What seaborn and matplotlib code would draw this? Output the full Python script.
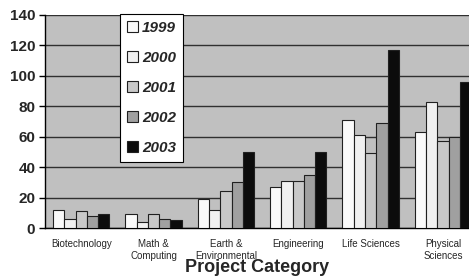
import pandas as pd
import numpy as np
import matplotlib.pyplot as plt
import seaborn as sns

sns.set_style('white')
plt.rcParams['font.family'] = ['Liberation Sans', 'DejaVu Sans']

# Chart data
categories = ['Biotechnology', 'Math &\nComputing', 'Earth &\nEnvironmental',
              'Engineering', 'Life Sciences', 'Physical\nSciences']
years = ['1999', '2000', '2001', '2002', '2003']
v1999 = [12, 9, 19, 27, 71, 63]
v2000 = [6, 4, 12, 31, 61, 83]
v2001 = [11, 9, 24, 31, 49, 57]
v2002 = [8, 6, 30, 35, 69, 60]
v2003 = [9, 5, 50, 50, 117, 96]

rows = []
for yr, vals in zip(years, [v1999, v2000, v2001, v2002, v2003]):
    for cat, v in zip(categories, vals):
        rows.append({'Category': cat, 'Year': yr, 'Count': v})
df = pd.DataFrame(rows)

palette = ['#fafafa', '#f0f0f0', '#c8c8c8', '#a0a0a0', '#0c0c0c']

fig = plt.figure(figsize=(4.69, 2.78), dpi=100)
ax = fig.add_axes([45 / 469, 50 / 278, 1 - 45 / 469, 213 / 278])
ax.set_facecolor('#c0c0c0')

sns.barplot(data=df, x='Category', y='Count', hue='Year', palette=palette,
            edgecolor='#202020', linewidth=0.8, width=0.78, ax=ax, zorder=3)

ax.set_ylim(0, 140)
ax.set_xlim(-0.5, 5.36)
ax.set_yticks(range(0, 141, 20))
ax.set_yticklabels([str(t) for t in range(0, 141, 20)], fontsize=11, fontweight='bold')
ax.yaxis.grid(True, color='#303030', linewidth=1.0, zorder=1)
ax.set_axisbelow(True)

ax.set_xticks(range(len(categories)))
ax.set_xticklabels(categories, fontsize=7, linespacing=1.2)
ax.tick_params(axis='x', length=0, pad=8)
ax.set_xticks(np.arange(-0.5, 5.5, 1), minor=True)
ax.tick_params(axis='x', which='minor', length=4, color='black', width=1)
ax.tick_params(axis='y', length=4, color='black', width=1, left=True, pad=3)

for s in ['top', 'right']:
    ax.spines[s].set_visible(False)
for s in ['left', 'bottom']:
    ax.spines[s].set_color('black')
    ax.spines[s].set_linewidth(1)

ax.set_xlabel('Project Category', fontsize=13, fontweight='bold', labelpad=-1)
ax.set_ylabel('')

leg = ax.legend(loc='upper left', bbox_to_anchor=(0.177, 1.005), frameon=True,
                fancybox=False, edgecolor='black', framealpha=1,
                prop={'weight': 'bold', 'style': 'italic', 'size': 11},
                handlelength=0.7, handleheight=0.7, handletextpad=0.3,
                labelspacing=1.05, borderpad=0.45, borderaxespad=0, title=None)
leg.get_frame().set_linewidth(0.8)

plt.savefig('out.png', dpi=100)
